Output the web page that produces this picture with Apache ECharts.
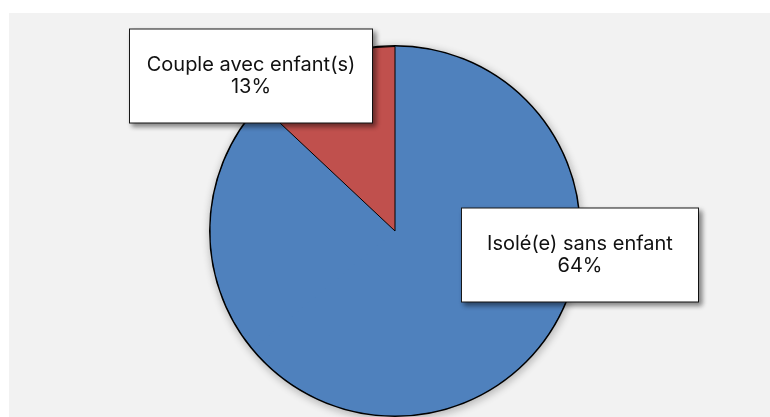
<!DOCTYPE html>
<html>
<head>
<meta charset="utf-8">
<script src="https://cdn.jsdelivr.net/npm/echarts@6/dist/echarts.min.js"></script>
<style>
  html, body { margin: 0; padding: 0; background: #ffffff; }
  #chart { width: 770px; height: 417px; }
</style>
</head>
<body>
<div id="chart"></div>
<script>
// Household types (percent of the whole disc)
const categories = ['Isolé(e) sans enfant', 'Autres situations', 'Couple avec enfant(s)'];
const shares = [64, 23, 13];
// Which slices get a visible label
const labelled = [true, false, true];

const BLUE = '#4f81bd';
const RED = '#c0504d';
const sliceColors = [BLUE, BLUE, RED];

const CENTER = [395, 231];
const RADIUS = 185;
const total = shares.reduce((a, b) => a + b, 0);

// Label box centres and widths, one per slice
const labelCentres = [[580, 255], null, [251, 76]];
const labelWidths = [234, 0, 240];

const chart = echarts.init(document.getElementById('chart'), null, { renderer: 'canvas' });

chart.setOption({
  animation: false,
  backgroundColor: '#ffffff',
  graphic: [{
    type: 'rect', z: -10, silent: true,
    shape: { x: 9, y: 13, width: 761, height: 404 },
    style: { fill: '#f2f2f2' }
  }],
  series: [
    {
      // full disc underneath: outline, soft drop shadow and seamless blue between slices
      type: 'pie', silent: true, z: 1,
      center: CENTER, radius: RADIUS, startAngle: 90,
      label: { show: false }, labelLine: { show: false },
      itemStyle: {
        color: BLUE, borderColor: '#000000', borderWidth: 2,
        shadowBlur: 8, shadowOffsetX: 1, shadowOffsetY: 2, shadowColor: 'rgba(0,0,0,0.25)'
      },
      data: [{ name: 'total', value: total }]
    },
    {
      type: 'pie', silent: true, z: 2,
      center: CENTER, radius: RADIUS - 0.5, startAngle: 90, clockwise: true,
      avoidLabelOverlap: false,
      labelLine: { show: false },
      data: categories.map((name, i) => ({
        name: name,
        value: shares[i],
        itemStyle: sliceColors[i] === RED
          ? { color: RED, borderColor: '#000000', borderWidth: 1 }
          : { color: sliceColors[i], borderWidth: 0 },
        label: {
          show: labelled[i],
          position: 'outside',
          formatter: '{b}\n{c}%',
          fontFamily: 'Inter',
          fontSize: 20,
          lineHeight: 22,
          color: '#111111',
          backgroundColor: '#ffffff',
          borderColor: '#1a1a1a',
          borderWidth: 1,
          width: labelWidths[i],
          padding: [25, 1, 24, 1],
          align: 'center',
          shadowColor: 'rgba(0,0,0,0.45)',
          shadowBlur: 5,
          shadowOffsetX: 3,
          shadowOffsetY: 3
        }
      })),
      labelLayout: function (params) {
        const c = labelCentres[params.dataIndex];
        if (!c) return {};
        return { x: c[0], y: c[1], align: 'center', verticalAlign: 'middle' };
      }
    }
  ]
});
</script>
</body>
</html>
